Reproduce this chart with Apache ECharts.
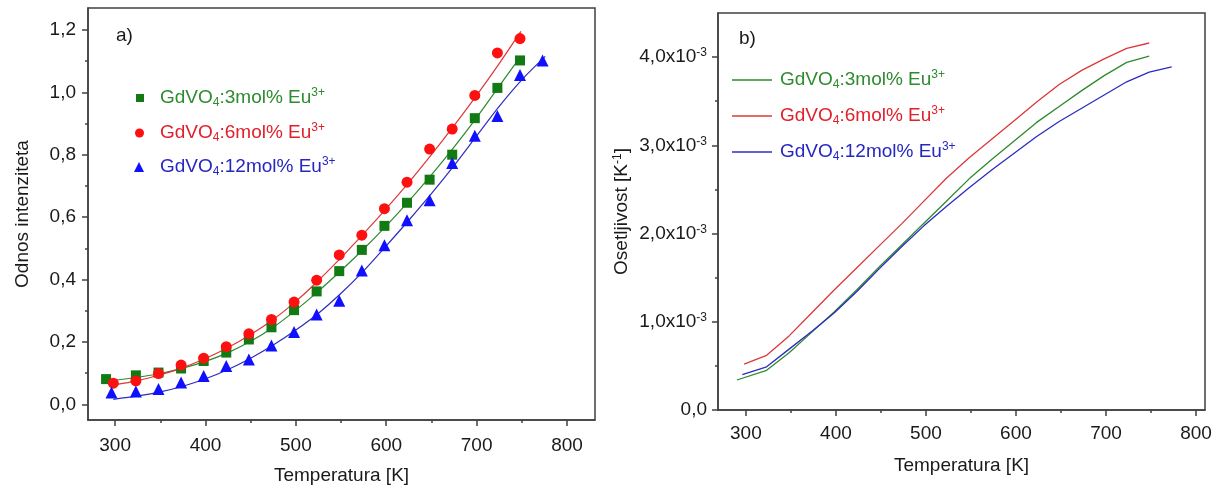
<!DOCTYPE html>
<html><head><meta charset="utf-8">
<script src="https://cdn.jsdelivr.net/npm/echarts@6/dist/echarts.min.js"></script>
<style>html,body{margin:0;padding:0;background:#fff}#c{width:1224px;height:490px}</style>
</head><body><div id="c"></div>
<script>
// ---- Panel a) measured intensity ratio ----
const tempG = [290,323,348,373,398,423,448,473,498,523,548,573,598,623,648,673,698,723,748];
const tempR = [298,323,348,373,398,423,448,473,498,523,548,573,598,623,648,673,698,723,748];
const tempB = [296,323,348,373,398,423,448,473,498,523,548,573,598,623,648,673,698,723,748,773];
const ratioG = [0.081,0.093,0.102,0.115,0.139,0.166,0.208,0.247,0.302,0.362,0.427,0.495,0.572,0.646,0.720,0.800,0.917,1.014,1.102];
const ratioR = [0.068,0.075,0.099,0.126,0.148,0.185,0.226,0.272,0.328,0.398,0.479,0.542,0.627,0.712,0.818,0.882,0.990,1.126,1.172];
const ratioB = [0.038,0.041,0.049,0.070,0.091,0.123,0.144,0.189,0.232,0.288,0.332,0.429,0.510,0.590,0.654,0.773,0.861,0.924,1.055,1.102];
// fitted curves
const fitTempG = [290,325,350,375,400,425,450,475,500,525,550,575,600,625,650,675,700,725,748];
const fitG = [0.074,0.087,0.099,0.116,0.138,0.166,0.202,0.247,0.302,0.363,0.429,0.498,0.572,0.651,0.735,0.824,0.919,1.020,1.112];
const fitTempR = [298,325,350,375,400,425,450,475,500,525,550,575,600,625,650,675,700,725,749];
const fitR = [0.062,0.076,0.095,0.118,0.147,0.182,0.224,0.272,0.330,0.397,0.470,0.547,0.627,0.711,0.800,0.893,0.990,1.092,1.195];
const fitTempB = [298,325,350,375,400,425,450,475,500,525,550,575,600,625,650,675,700,725,750,776];
const fitB = [0.016,0.027,0.040,0.058,0.082,0.112,0.148,0.190,0.238,0.292,0.356,0.428,0.508,0.590,0.675,0.765,0.860,0.955,1.040,1.115];
// ---- Panel b) sensitivity (x10^-3 K^-1) ----
const sensG = [0.34,0.45,0.65,0.88,1.11,1.36,1.62,1.87,2.12,2.37,2.62,2.84,3.05,3.26,3.44,3.62,3.79,3.94,4.01];
const sensR = [0.52,0.62,0.84,1.10,1.36,1.61,1.86,2.11,2.37,2.63,2.86,3.07,3.28,3.49,3.69,3.85,3.98,4.10,4.16];
const sensB = [0.40,0.49,0.69,0.89,1.10,1.34,1.60,1.85,2.09,2.31,2.52,2.72,2.91,3.10,3.27,3.42,3.57,3.72,3.83,3.89];
// ---- ticks ----
const xMajor = [300,400,500,600,700,800];
const xMinor = [350,450,550,650,750];
const yaMajor = [0,0.2,0.4,0.6,0.8,1.0,1.2];
const yaMinor = [0.1,0.3,0.5,0.7,0.9,1.1];
const ybMajor = [0,1,2,3,4];
const ybMinor = [0.5,1.5,2.5,3.5];
const labels = {g:'3', r:'6', b:'12'};

const FONT = 'Liberation Sans, Arial, sans-serif';
const AX = '#404040';
const TXT = '#1a1a1a';
const cG = '#127a12', cR = '#ff1010', cB = '#1010ff';
const tG = '#2e8b2e', tR = '#e0202a', tB = '#2626c0';
const lG = '#2e8a2e', lR = '#dd3838', lB = '#2c2cc0';

function zip(a,b){return a.map((v,i)=>[v,b[i]]);}
function legRich(col, sp){
  return {
    sp:{width:sp, color:col, fontSize:19, lineHeight:22},
    m:{fontSize:19, lineHeight:22, color:col, fontFamily:FONT},
    sb:{fontSize:12, lineHeight:8, verticalAlign:'bottom', color:col, fontFamily:FONT},
    su:{fontSize:12, lineHeight:12, verticalAlign:'top', color:col, fontFamily:FONT}
  };
}
function legText(pct){return '{sp| }{m|GdVO}{sb|4}{m|:'+pct+'mol% Eu}{su|3+}';}
function legend(name, pct, col, left, top, iw, ih, sp, icon){
  const l = {data:[name], left:left, top:top, padding:0, itemWidth:iw, itemHeight:ih,
    selectedMode:false, formatter:()=>legText(pct),
    textStyle:{color:col, fontSize:19, fontFamily:FONT, rich:legRich(col, sp)}};
  if (icon) { l.icon = icon; l.itemStyle = {opacity:1}; }
  return l;
}
const supRich = {
  m:{fontSize:19, lineHeight:20, color:TXT, fontFamily:FONT},
  s:{fontSize:12, lineHeight:12, verticalAlign:'top', color:TXT, fontFamily:FONT}
};
function mainX(grid, min, max, margin){
  return {type:'value', gridIndex:grid, min:min, max:max, position:'bottom',
    axisLine:{show:true, onZero:false, lineStyle:{color:AX, width:1.5}},
    axisTick:{show:true, inside:false, length:6, customValues:xMajor, lineStyle:{color:AX, width:1.5}},
    axisLabel:{customValues:xMajor, margin:margin, fontSize:19, color:TXT, fontFamily:FONT},
    splitLine:{show:false},
    name:'Temperatura [K]', nameLocation:'middle', nameGap:46,
    nameTextStyle:{fontSize:19, color:TXT, fontFamily:FONT}};
}
function minorX(grid, min, max){
  return {type:'value', gridIndex:grid, min:min, max:max, position:'bottom',
    axisLine:{show:false, onZero:false}, axisTick:{show:true, length:3, customValues:xMinor, lineStyle:{color:AX, width:1.5}},
    axisLabel:{show:false}, splitLine:{show:false}};
}
function minorY(grid, min, max, vals){
  return {type:'value', gridIndex:grid, min:min, max:max, position:'left',
    axisLine:{show:false, onZero:false}, axisTick:{show:true, length:3, customValues:vals, lineStyle:{color:AX, width:1.5}},
    axisLabel:{show:false}, splitLine:{show:false}};
}

const option = {
  animation:false,
  backgroundColor:'#ffffff',
  title:[
    {text:'a)', left:116, top:26, padding:0, textStyle:{fontSize:19, fontWeight:'normal', color:TXT, fontFamily:FONT}},
    {text:'b)', left:739, top:29, padding:0, textStyle:{fontSize:19, fontWeight:'normal', color:TXT, fontFamily:FONT}}
  ],
  grid:[
    {left:88, top:8, width:507, height:415, show:true, borderColor:AX, borderWidth:1.5, backgroundColor:'transparent'},
    {left:718, top:13, width:487, height:397, show:true, borderColor:AX, borderWidth:1.5, backgroundColor:'transparent'}
  ],
  legend:[
    legend('g3', labels.g, tG, 136, 87, 8, 8, 11),
    legend('r6', labels.r, tR, 135, 122, 9, 9, 11),
    legend('b12', labels.b, tB, 134, 156, 10, 10, 11),
    legend('s3', labels.g, tG, 732, 69, 40, 1.4, 3, 'rect'),
    legend('s6', labels.r, tR, 732, 105, 40, 1.4, 3, 'rect'),
    legend('s12', labels.b, tB, 732, 141, 40, 1.4, 3, 'rect')
  ],
  xAxis:[ mainX(0, 270, 831, 16), minorX(0, 270, 831), mainX(1, 269, 810, 14), minorX(1, 269, 810) ],
  yAxis:[
    {type:'value', gridIndex:0, min:-0.05, max:1.27, position:'left',
      axisLine:{show:true, onZero:false, lineStyle:{color:AX, width:1.5}},
      axisTick:{show:true, length:6, customValues:yaMajor, lineStyle:{color:AX, width:1.5}},
      axisLabel:{customValues:yaMajor, margin:12, fontSize:19, color:TXT, fontFamily:FONT,
        formatter:v=>v.toFixed(1).replace('.', ',')},
      splitLine:{show:false},
      name:'Odnos intenziteta', nameLocation:'middle', nameRotate:90, nameGap:56,
      nameTextStyle:{fontSize:19, color:TXT, fontFamily:FONT}},
    minorY(0, -0.05, 1.27, yaMinor),
    {type:'value', gridIndex:1, min:0, max:4.5, position:'left',
      axisLine:{show:true, onZero:false, lineStyle:{color:AX, width:1.5}},
      axisTick:{show:true, length:6, customValues:ybMajor, lineStyle:{color:AX, width:1.5}},
      axisLabel:{customValues:ybMajor, margin:11,
        formatter:v=> v===0 ? '{m|0,0}' : '{m|'+v.toFixed(1).replace('.', ',')+'x10}{s|-3}',
        rich:supRich},
      splitLine:{show:false},
      name:'{m|Osetljivost [K}{s|-1}{m|]}', nameLocation:'middle', nameRotate:90, nameGap:86,
      nameTextStyle:{fontSize:19, color:TXT, fontFamily:FONT, rich:supRich}},
    minorY(1, 0, 4.5, ybMinor)
  ],
  series:[
    {name:'fit3', type:'line', xAxisIndex:0, yAxisIndex:0, data:zip(fitTempG, fitG), smooth:0.3, showSymbol:false, symbol:'none', lineStyle:{color:lG, width:1.2}, itemStyle:{color:lG}, z:2},
    {name:'fit6', type:'line', xAxisIndex:0, yAxisIndex:0, data:zip(fitTempR, fitR), smooth:0.3, showSymbol:false, symbol:'none', lineStyle:{color:lR, width:1.2}, itemStyle:{color:lR}, z:2},
    {name:'fit12', type:'line', xAxisIndex:0, yAxisIndex:0, data:zip(fitTempB, fitB), smooth:0.3, showSymbol:false, symbol:'none', lineStyle:{color:lB, width:1.2}, itemStyle:{color:lB}, z:2},
    {name:'g3', type:'scatter', xAxisIndex:0, yAxisIndex:0, data:zip(tempG, ratioG), symbol:'rect', symbolSize:10, itemStyle:{color:cG, opacity:1}, z:3},
    {name:'r6', type:'scatter', xAxisIndex:0, yAxisIndex:0, data:zip(tempR, ratioR), symbol:'circle', symbolSize:11, itemStyle:{color:cR, opacity:1}, z:3},
    {name:'b12', type:'scatter', xAxisIndex:0, yAxisIndex:0, data:zip(tempB, ratioB), symbol:'triangle', symbolSize:12, itemStyle:{color:cB, opacity:1}, z:3},
    {name:'s3', type:'line', xAxisIndex:2, yAxisIndex:2, data:zip(tempG, sensG), symbol:'none', lineStyle:{color:lG, width:1.3}, itemStyle:{color:lG}},
    {name:'s6', type:'line', xAxisIndex:2, yAxisIndex:2, data:zip(tempR, sensR), symbol:'none', lineStyle:{color:lR, width:1.3}, itemStyle:{color:lR}},
    {name:'s12', type:'line', xAxisIndex:2, yAxisIndex:2, data:zip(tempB, sensB), symbol:'none', lineStyle:{color:lB, width:1.3}, itemStyle:{color:lB}}
  ]
};
const chart = echarts.init(document.getElementById('c'), null, {renderer:'canvas'});
chart.setOption(option);
</script>
</body></html>
